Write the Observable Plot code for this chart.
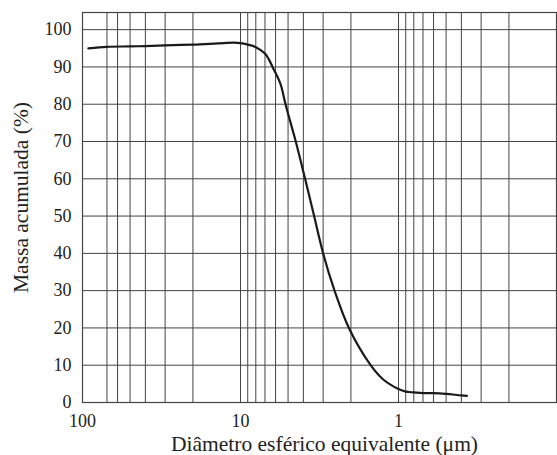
<!DOCTYPE html>
<html>
<head>
<meta charset="utf-8">
<script src="https://cdn.jsdelivr.net/npm/d3@7"></script>
<script src="https://cdn.jsdelivr.net/npm/@observablehq/plot@0.6"></script>
<style>
  html, body { margin: 0; padding: 0; background: #fff; }
  svg { display: block; }
</style>
</head>
<body>
<div id="chart"></div>
<script>
// Diâmetro esférico equivalente (µm) and Massa acumulada (%)
const diameter = [91.8, 70, 50, 40, 30, 20, 14, 11, 10, 9, 8, 7, 6.55, 6.27, 5.58, 5.19, 4.47, 3.9, 3.42, 3.0, 2.54, 2.06, 1.5, 1.26, 1.0, 0.9, 0.8, 0.7, 0.6, 0.5, 0.4, 0.369];
const massa    = [95.0, 95.4, 95.5, 95.6, 95.8, 96.0, 96.3, 96.5, 96.4, 96.0, 95.3, 93.6, 91.7, 90.0, 85.4, 80, 70, 60, 50, 40, 30, 20, 10, 6.3, 3.6, 2.9, 2.7, 2.5, 2.5, 2.3, 1.9, 1.8];

const xTicks = [100, 10, 1];
const yTicks = [0, 10, 20, 30, 40, 50, 60, 70, 80, 90, 100];
const xGrid = [100, 70, 60, 50, 40, 30, 20, 10, 9, 8, 7, 6, 5, 4, 3, 2, 1, 0.9, 0.8, 0.7, 0.6, 0.5, 0.4, 0.3, 0.2, 0.1];
const yGrid = [10, 20, 30, 40, 50, 60, 70, 80, 90, 100];
const xLabel = "Diâmetro esférico equivalente (μm)";
const yLabel = "Massa acumulada (%)";

const data = diameter.map((d, i) => ({d, m: massa[i]}));
const gridColor = "#444";
const serif = "'Liberation Serif', 'Times New Roman', serif";

const chart = Plot.plot({
  width: 557,
  height: 455,
  marginLeft: 82,
  marginRight: 1,
  marginTop: 12,
  marginBottom: 53,
  style: {fontFamily: serif, fontSize: "18px", color: "#222", background: "#fff"},
  x: {type: "log", domain: [100, 0.1], label: null},
  y: {domain: [0, 104.6], label: null},
  marks: [
    Plot.ruleX(xGrid, {stroke: gridColor, strokeWidth: 1}),
    Plot.ruleY(yGrid, {stroke: gridColor, strokeWidth: 1}),
    Plot.frame({stroke: gridColor, strokeWidth: 1.2}),
    Plot.axisX({ticks: xTicks, tickFormat: d => String(d), tickSize: 0, tickPadding: 12, fontSize: 18, fontFamily: serif, label: null}),
    Plot.axisY({ticks: yTicks, tickSize: 0, tickPadding: 11, fontSize: 18, fontFamily: serif, label: null}),
    Plot.line(data, {x: "d", y: "m", stroke: "#1a1a1a", strokeWidth: 2.2, curve: "catmull-rom"}),
    Plot.text([xLabel], {frameAnchor: "bottom", text: d => d, dy: 42, dx: 5, textAnchor: "middle", lineAnchor: "middle", fontSize: 21.5, fontFamily: serif, fill: "#222"}),
    Plot.text([yLabel], {frameAnchor: "left", text: d => d, dx: -61, dy: -10, rotate: -90, textAnchor: "middle", lineAnchor: "middle", fontSize: 21.5, fontFamily: serif, fill: "#222"})
  ]
});
document.getElementById("chart").appendChild(chart);
</script>
</body>
</html>
